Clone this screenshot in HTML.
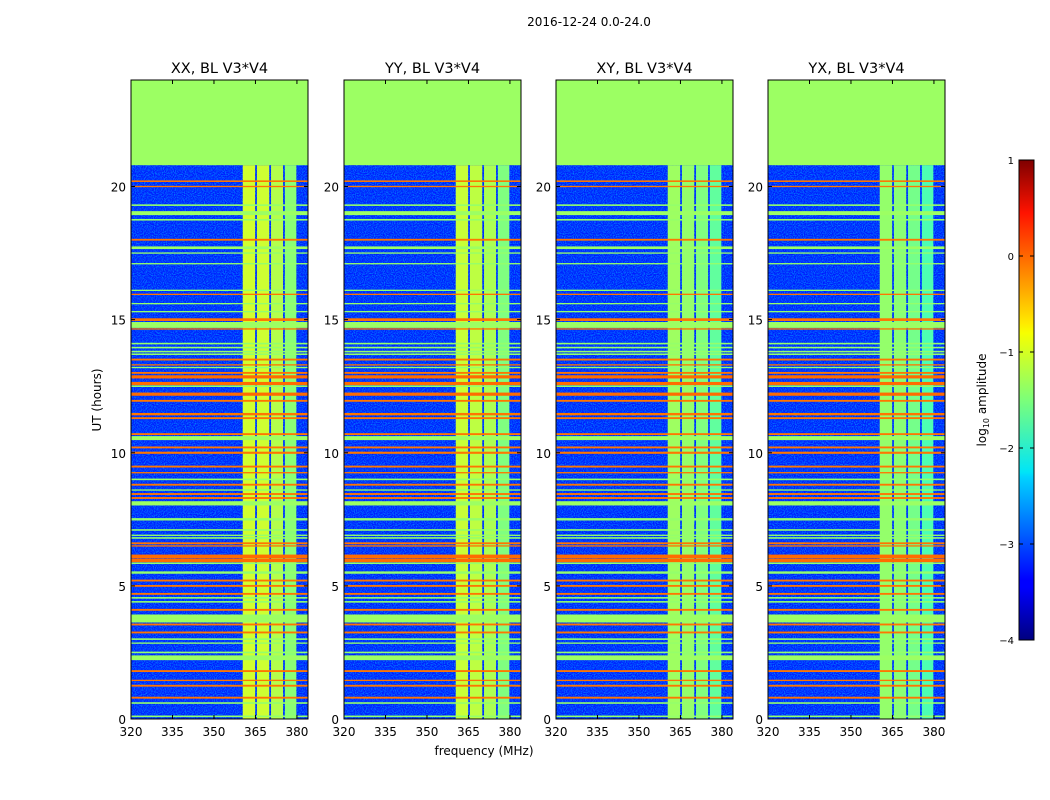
<!DOCTYPE html>
<html><head><meta charset="utf-8">
<style>
html,body{margin:0;padding:0;background:#fff;width:1050px;height:800px;overflow:hidden;font-family:"DejaVu Sans","Liberation Sans",sans-serif;}
svg text{font-family:"DejaVu Sans","Liberation Sans",sans-serif;}
</style></head>
<body>
<svg id="fig" width="1050" height="800" xmlns="http://www.w3.org/2000/svg">
<defs>
<filter id="noise" x="0" y="0" width="100%" height="100%">
<feTurbulence type="fractalNoise" baseFrequency="0.9" numOctaves="1" seed="3"/>
<feColorMatrix type="matrix" values="0 0 0 0 0  0 0 0 0 0.5  0 0 0 0 1  0 0 0 1.6 -0.6"/>
</filter>
<linearGradient id="jet" x1="0" y1="1" x2="0" y2="0">
<stop offset="0" stop-color="#00007f"/><stop offset="0.11" stop-color="#0000ff"/>
<stop offset="0.125" stop-color="#0000ff"/><stop offset="0.34" stop-color="#00d4ff"/>
<stop offset="0.35" stop-color="#00e5f7"/><stop offset="0.5" stop-color="#7cff79"/>
<stop offset="0.64" stop-color="#f7ff00"/><stop offset="0.66" stop-color="#ffea00"/>
<stop offset="0.89" stop-color="#ff1300"/><stop offset="1" stop-color="#7f0000"/>
</linearGradient>
</defs>
<text x="589" y="26" font-size="12" text-anchor="middle">2016-12-24 0.0-24.0</text>
<text x="484" y="755" font-size="12" text-anchor="middle">frequency (MHz)</text>
<text x="101" y="400" font-size="12" text-anchor="middle" transform="rotate(-90 101 400)">UT (hours)</text>
<g id="panels"></g>
<g id="cbar"></g>
</svg>
<script>
const panelTitles = ["XX, BL V3*V4","YY, BL V3*V4","XY, BL V3*V4","YX, BL V3*V4"];
const xTicks = [320,335,350,365,380];
const yTicks = [0,5,10,15,20];
// band columns: frequency edges
const bandEdges = [360.4,365.1,370.2,375.2,380.0];
// log amplitude level of each band column, per panel
const bandLevelsXX = [-1.1,-1.12,-1.25,-1.45];
const bandLevelsYY = [-1.15,-1.2,-1.28,-1.5];
const bandLevelsXY = [-1.35,-1.4,-1.5,-1.65];
const bandLevelsYX = [-1.4,-1.45,-1.55,-1.75];
const bgLevel = -3.25;
const flagStart = 20.8; const flagLevel = -1.36;
// horizontal RFI lines: hour, level, thickness(hours)
const lineHours = [20.2,20.0,19.3,19.0,18.75,18.0,17.7,17.5,17.1,16.1,15.95,15.6,15.3,15.0,14.8,14.65,14.1,13.95,13.8,13.7,13.5,13.3,13.2,13.0,12.85,12.6,12.5,12.2,11.95,11.45,11.3,10.7,10.55,10.2,10.0,9.48,9.25,9.0,8.8,8.6,8.45,8.3,8.1,7.5,7.1,6.9,6.8,6.6,6.5,6.1,5.95,5.85,5.5,5.2,5.0,4.7,4.55,4.4,4.1,3.85,3.7,3.55,3.25,3.0,2.85,2.5,2.3,1.8,1.45,1.25,0.8,0.6,0.1];
const lineLevels = [-0.2,-0.2,-1.4,-1.36,-1.4,-0.2,-1.36,-1.4,-1.4,-1.4,-0.2,-1.4,-1.4,-0.2,-1.36,-0.2,-1.4,-1.4,-1.4,-1.4,-0.2,-0.2,-1.4,-0.2,-0.15,-0.15,-1.4,-0.15,-0.2,-0.2,-0.2,-0.2,-1.36,-0.2,-0.2,-0.2,-0.2,-1.4,-0.2,-1.4,-0.2,-0.2,-1.36,-1.4,-1.4,-1.4,-1.4,-0.2,-0.2,-0.15,-0.15,-1.4,-1.4,-0.2,-0.2,-0.2,-1.4,-1.4,-0.2,-1.36,-1.36,-0.2,-0.2,-1.4,-1.4,-1.4,-1.36,-0.2,-0.2,-0.2,-0.2,-1.4,-1.4];
const lineWidths = [0.06,0.05,0.06,0.15,0.06,0.07,0.1,0.05,0.05,0.05,0.05,0.05,0.05,0.1,0.22,0.05,0.06,0.06,0.06,0.06,0.07,0.05,0.05,0.07,0.12,0.12,0.06,0.12,0.07,0.09,0.07,0.07,0.15,0.07,0.08,0.07,0.05,0.06,0.07,0.05,0.07,0.07,0.16,0.09,0.06,0.05,0.06,0.07,0.05,0.15,0.12,0.06,0.09,0.07,0.07,0.07,0.06,0.06,0.07,0.15,0.15,0.07,0.07,0.06,0.05,0.06,0.18,0.07,0.05,0.07,0.07,0.06,0.06];
const cbarTicks = [1,0,-1,-2,-3,-4];
const cbarTickLabels = ["1","0","\u22121","\u22122","\u22123","\u22124"];

const NS="http://www.w3.org/2000/svg";
const panelLefts=[131,344,556,768], PW=177, TOP=80, BOT=719;
const fMin=320,fMax=384,hMin=0,hMax=24,vMin=-4,vMax=1;
function clamp(v){return Math.max(0,Math.min(1,v));}
function jet(level){const t=(level-vMin)/(vMax-vMin);
 const r=clamp(1.5-Math.abs(4*t-3)),g=clamp(1.5-Math.abs(4*t-2)),b=clamp(1.5-Math.abs(4*t-1));
 return `rgb(${Math.round(r*255)},${Math.round(g*255)},${Math.round(b*255)})`;}
function el(tag,attrs,parent){const e=document.createElementNS(NS,tag);for(const k in attrs)e.setAttribute(k,attrs[k]);parent.appendChild(e);return e;}
const bandSets=[bandLevelsXX,bandLevelsYY,bandLevelsXY,bandLevelsYX];
const root=document.getElementById('panels');
panelTitles.forEach((title,p)=>{
 const L=panelLefts[p];
 const xS=f=>L+(f-fMin)/(fMax-fMin)*PW;
 const yS=h=>BOT-(h-hMin)/(hMax-hMin)*(BOT-TOP);
 const g=el('g',{},root);
 
 
 const bg=el('rect',{x:L,y:TOP,width:PW,height:BOT-TOP,fill:jet(bgLevel)},g);
 
 
 el('rect',{x:L,y:TOP,width:PW,height:BOT-TOP,filter:'url(#noise)'},g);
 const bl=bandSets[p];
 for(let i=0;i<bl.length;i++){
  const x0=xS(bandEdges[i])+(i>0?1.2:0), x1=xS(bandEdges[i+1])-0.6;
  const c=el('rect',{x:x0,y:yS(flagStart),width:x1-x0,height:yS(0)-yS(flagStart),fill:jet(bl[i])},g);
  
  
 }
 for(let i=0;i<lineHours.length;i++){
  const hh=lineHours[i], w=lineWidths[i];
  const y0=yS(hh+w/2), y1=yS(hh-w/2);
  const r=el('rect',{x:L,y:y0,width:PW,height:Math.max(1.2,y1-y0),fill:jet(lineLevels[i])},g);
  
  
 }
 const fl=el('rect',{x:L,y:yS(hMax),width:PW,height:yS(flagStart)-yS(hMax),fill:jet(flagLevel)},g);
 
 
 el('rect',{x:L,y:TOP,width:PW,height:BOT-TOP,fill:'none',stroke:'#000','stroke-width':1},g);
 const t=el('text',{x:L+PW/2,y:73,'font-size':14.5,'text-anchor':'middle'},g);t.textContent=title;
 
 
 xTicks.forEach(v=>{const x=xS(v);
  el('line',{x1:x,x2:x,y1:BOT,y2:BOT-4,stroke:'#000'},g);el('line',{x1:x,x2:x,y1:TOP,y2:TOP+4,stroke:'#000'},g);
  const tx=el('text',{x:x,y:BOT+17,'font-size':12,'text-anchor':'middle'},g);tx.textContent=v;
  
  });
 yTicks.forEach(v=>{const y=yS(v);
  el('line',{x1:L,x2:L+4,y1:y,y2:y,stroke:'#000'},g);el('line',{x1:L+PW,x2:L+PW-4,y1:y,y2:y,stroke:'#000'},g);
  const ty=el('text',{x:L-5,y:y+5,'font-size':12,'text-anchor':'end'},g);ty.textContent=v;
  
  });
});
const cb=document.getElementById('cbar');
const CX=1019,CW=15,CT=160,CB=640;
const cS=v=>CB-(v-vMin)/(vMax-vMin)*(CB-CT);
el('rect',{x:CX,y:CT,width:CW,height:CB-CT,fill:'url(#jet)',stroke:'#000'},cb);
cbarTicks.forEach((v,i)=>{const y=cS(v);
 el('line',{x1:CX,x2:CX+4,y1:y,y2:y,stroke:'#000'},cb);el('line',{x1:CX+CW,x2:CX+CW-4,y1:y,y2:y,stroke:'#000'},cb);
 const t=el('text',{x:CX-5,y:y+4,'font-size':10,'text-anchor':'end'},cb);t.textContent=cbarTickLabels[i];
 
 });
const lab=el('text',{x:986,y:400,'font-size':12,'text-anchor':'middle',transform:'rotate(-90 986 400)'},cb);
lab.innerHTML='log<tspan font-size="8" dy="3">10</tspan><tspan dy="-3"> amplitude</tspan>';


</script>
</body></html>
